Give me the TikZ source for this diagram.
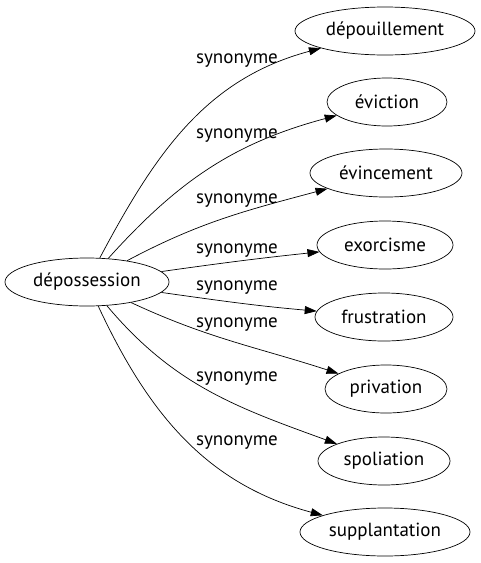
\documentclass[tikz,border=0pt]{standalone}
\usepackage{fontspec}
\setmainfont{PT Sans}
\usetikzlibrary{shapes.geometric, arrows.meta}

\begin{document}
\begin{tikzpicture}[x=1pt, y=-1pt,
    term/.style={ellipse, draw, inner sep=0pt, minimum height=48pt, line width=0.7pt, font=\fontsize{19}{21}\selectfont},
    rel/.style={font=\fontsize{19}{21}\selectfont, inner sep=1pt},
    syn/.style={-{Triangle[length=12pt, width=8pt]}, line width=0.7pt}
]
  \useasboundingbox (0,0) rectangle (480,563);

  \node[term, minimum width=164pt] (dep) at (87, 282) {dépossession};

  \node[term, minimum width=180pt] (t1) at (385, 31)  {dépouillement};
  \node[term, minimum width=120pt] (t2) at (387, 102) {éviction};
  \node[term, minimum width=152pt] (t3) at (386, 173) {évincement};
  \node[term, minimum width=136pt] (t4) at (385, 245) {exorcisme};
  \node[term, minimum width=138pt] (t5) at (384, 317) {frustration};
  \node[term, minimum width=122pt] (t6) at (386, 389) {privation};
  \node[term, minimum width=132pt] (t7) at (384, 461) {spoliation};
  \node[term, minimum width=170pt] (t8) at (385, 532) {supplantation};

  \node[rel] (l1) at (237, 61)  {synonyme};
  \node[rel] (l2) at (237, 136) {synonyme};
  \node[rel] (l3) at (237, 201) {synonyme};
  \node[rel] (l4) at (237, 251) {synonyme};
  \node[rel] (l5) at (237, 288) {synonyme};
  \node[rel] (l6) at (237, 325) {synonyme};
  \node[rel] (l7) at (237, 379) {synonyme};
  \node[rel] (l8) at (237, 443) {synonyme};

  \draw[syn] (dep) to[out=62, in=195] (t1);
  \draw[syn] (dep) to[out=48, in=195] (t2);
  \draw[syn] (dep) to[out=28, in=195] (t3);
  \draw[syn] (dep) to[out=8, in=186] (t4);
  \draw[syn] (dep) to[out=-8, in=175] (t5);
  \draw[syn] (dep) to[out=-25, in=162] (t6);
  \draw[syn] (dep) to[out=-50, in=160] (t7);
  \draw[syn] (dep) to[out=-65, in=165] (t8);
\end{tikzpicture}
\end{document}
